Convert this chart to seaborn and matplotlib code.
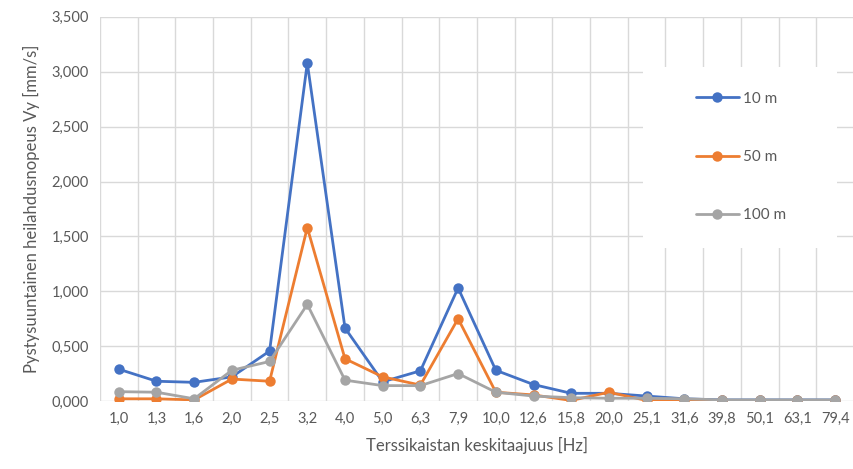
import matplotlib
matplotlib.use("Agg")
import matplotlib.pyplot as plt
from matplotlib.patches import Rectangle
from matplotlib.ticker import FuncFormatter, MultipleLocator
import numpy as np
import pandas as pd
import seaborn as sns

# terssikaistojen keskitaajuudet [Hz]
freqs = ["1,0", "1,3", "1,6", "2,0", "2,5", "3,2", "4,0", "5,0", "6,3", "7,9",
         "10,0", "12,6", "15,8", "20,0", "25,1", "31,6", "39,8", "50,1", "63,1", "79,4"]

vy_10m = [0.29, 0.18, 0.17, 0.22, 0.455, 3.08, 0.665, 0.175, 0.275, 1.03,
          0.28, 0.15, 0.07, 0.07, 0.045, 0.02, 0.01, 0.01, 0.01, 0.01]
vy_50m = [0.02, 0.02, 0.01, 0.20, 0.18, 1.58, 0.385, 0.22, 0.145, 0.75,
          0.08, 0.055, 0.005, 0.08, 0.005, 0.005, 0.005, 0.005, 0.005, 0.005]
vy_100m = [0.085, 0.08, 0.02, 0.28, 0.36, 0.88, 0.19, 0.14, 0.14, 0.25,
           0.08, 0.045, 0.03, 0.025, 0.025, 0.02, 0.01, 0.01, 0.01, 0.01]
series = ["10 m", "50 m", "100 m"]

n = len(freqs)
rows = []
for name, vals in zip(series, [vy_10m, vy_50m, vy_100m]):
    for i in range(n):
        rows.append({"idx": i, "Vy": vals[i], "Etaisyys": name})
df = pd.DataFrame(rows)

sns.set_style("white")
plt.rcParams["font.family"] = ["Lato", "DejaVu Sans"]
txt = "#595959"
grid = "#d9d9d9"

fig = plt.figure(figsize=(8.54, 4.69), dpi=100)
ax = fig.add_axes([0.117, 0.145, 0.883, 0.819])

palette = {"10 m": "#4472c4", "50 m": "#ed7d31", "100 m": "#a5a5a5"}
sns.lineplot(data=df, x="idx", y="Vy", hue="Etaisyys", hue_order=series,
             palette=palette, marker="o", markersize=7.5, markeredgewidth=0,
             linewidth=2.0, sort=False, ax=ax, zorder=3)

ax.set_xlim(-0.5, n - 0.5)
ax.set_ylim(0, 3.5)
ax.set_xticks(np.arange(n))
ax.set_xticklabels(freqs)
ax.set_xticks(np.arange(n + 1) - 0.5, minor=True)
ax.yaxis.set_major_locator(MultipleLocator(0.5))
ax.yaxis.set_major_formatter(FuncFormatter(lambda v, p: f"{v:,.3f}".replace(".", ",")))
ax.grid(True, axis="y", which="major", color=grid, linewidth=1)
ax.grid(True, axis="x", which="minor", color=grid, linewidth=1)
ax.set_axisbelow(True)
ax.tick_params(axis="both", which="both", length=0, labelsize=10.5, colors=txt, pad=8)
for s in ax.spines.values():
    s.set_visible(False)

ax.set_xlabel("Terssikaistan keskitaajuus [Hz]", fontsize=12, color=txt, labelpad=8)
ax.set_ylabel("Pystysuuntainen heilahdusnopeus Vy [mm/s]", fontsize=12, color=txt, labelpad=8)

# legendin valkoinen tausta
ax.add_patch(Rectangle((0.72, 0.398), 0.257, 0.472, transform=ax.transAxes,
                       facecolor="white", edgecolor="none", zorder=2))
leg = ax.legend(loc="center", bbox_to_anchor=(0.85, 0.635), frameon=False,
                fontsize=11, labelspacing=2.9, handlelength=2.8, handletextpad=0.25)
for t in leg.get_texts():
    t.set_color(txt)
leg.set_zorder(5)

fig.savefig("out.png", dpi=100)
